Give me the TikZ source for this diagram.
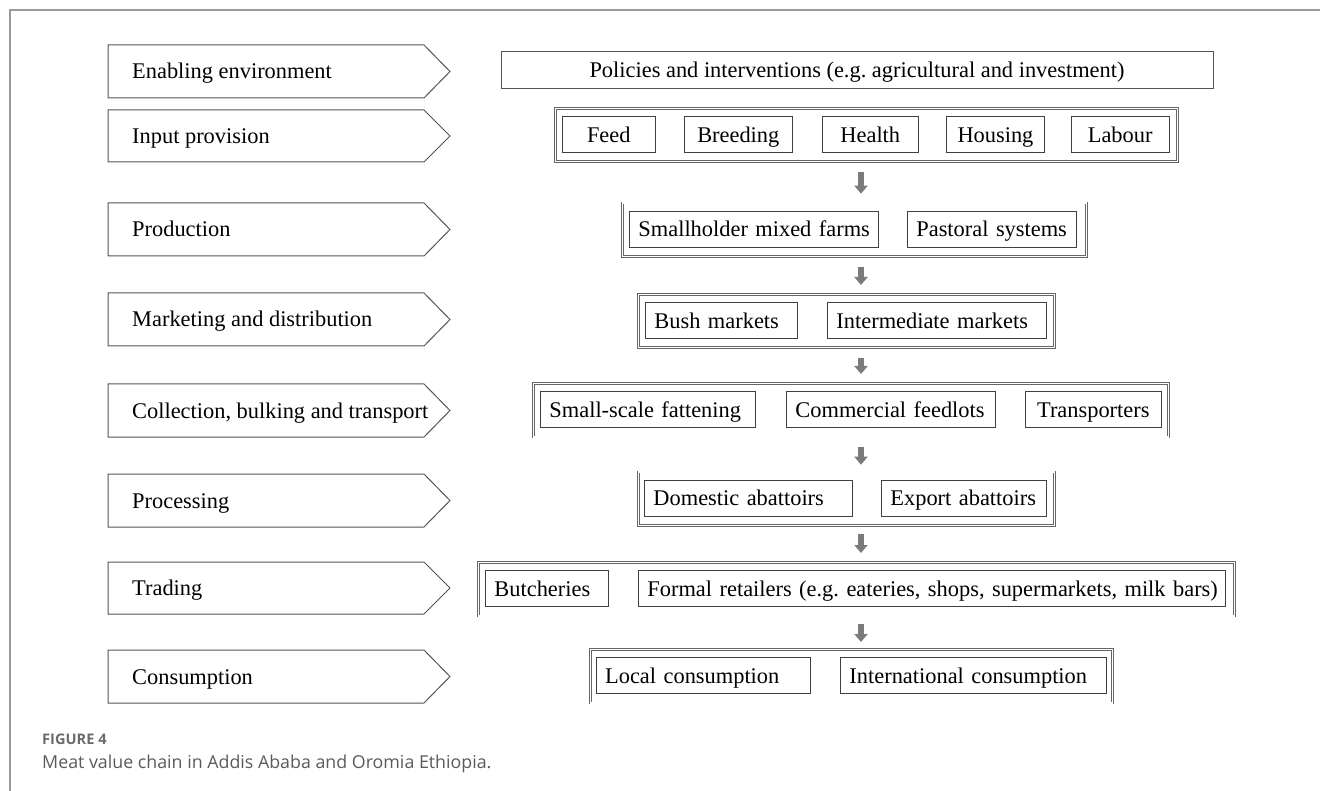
\documentclass[tikz,border=0pt]{standalone}
\usepackage{fontspec}
\setmainfont{Liberation Serif}
\newfontfamily\capfont{Open Sans}
\usetikzlibrary{arrows.meta, positioning}
\frenchspacing

\definecolor{stagegray}{HTML}{555555}
\definecolor{itemgray}{HTML}{404040}
\definecolor{grpgray}{HTML}{666666}
\definecolor{arrowgray}{HTML}{7B7B7B}
\definecolor{framegray}{HTML}{9B9B9B}
\definecolor{capgray}{HTML}{5A5A5A}

\begin{document}
\begin{tikzpicture}[x=1pt, y=-1pt,
          stage/.style={draw=stagegray, line width=1pt},
          stagetxt/.style={anchor=west, inner sep=0pt, text height=17pt, text depth=2pt,
            font=\fontsize{22.4}{26}\selectfont},
          grp/.style={draw=grpgray, double=white, double distance=1.3pt, line width=0.7pt,
            anchor=north west, inner sep=0pt, minimum height=53.5pt},
          item/.style={draw=itemgray, line width=0.9pt, anchor=west, inner xsep=9pt, inner ysep=0pt,
            minimum height=36pt, text height=17pt, text depth=2pt, align=left,
            font=\fontsize{22.4}{26}\selectfont,
            execute at begin node={\leavevmode\hbox\bgroup}, execute at end node={\egroup}},
          flow/.style={draw=arrowgray, line width=6pt, -{Triangle[width=13pt, length=8pt]}},
        ]
          \useasboundingbox (0,0) rectangle (1320,791);
          \draw[framegray, line width=1.5pt] (10,791) -- (10,10) -- (1320,10);

          % stages
          \draw[stage] (108,45)  -- (424,45)  -- (450,71.5)  -- (424,98)  -- (108,98)  -- cycle;
          \draw[stage] (108,110) -- (424,110) -- (450,136)   -- (424,162) -- (108,162) -- cycle;
          \draw[stage] (108,203) -- (424,203) -- (450,229.5) -- (424,256) -- (108,256) -- cycle;
          \draw[stage] (108,293) -- (424,293) -- (450,319.5) -- (424,346) -- (108,346) -- cycle;
          \draw[stage] (108,384) -- (424,384) -- (450,410.5) -- (424,437) -- (108,437) -- cycle;
          \draw[stage] (108,474) -- (424,474) -- (450,500.5) -- (424,527) -- (108,527) -- cycle;
          \draw[stage] (108,562) -- (424,562) -- (450,588)   -- (424,614) -- (108,614) -- cycle;
          \draw[stage] (108,650) -- (424,650) -- (450,676.5) -- (424,703) -- (108,703) -- cycle;
          \node[stagetxt] (s-env)  at (132,71.5)  {Enabling environment};
          \node[stagetxt] (s-inp)  at (132,136)   {Input provision};
          \node[stagetxt] (s-prod) at (132,229.5) {Production};
          \node[stagetxt] (s-mkt)  at (132,319.5) {Marketing and distribution};
          \node[stagetxt] (s-coll) at (132,410.5) {Collection, bulking and transport};
          \node[stagetxt] (s-proc) at (132,500.5) {Processing};
          \node[stagetxt] (s-trad) at (132,588)   {Trading};
          \node[stagetxt] (s-cons) at (132,676.5) {Consumption};

          % actors
          \node[draw=stagegray, line width=1pt, inner sep=0pt, minimum width=712pt, minimum height=37pt,
            text height=17pt, text depth=2pt, font=\fontsize{22.4}{26}\selectfont]
            (policy) at (857,70.2) {Policies and interventions (e.g. agricultural and investment)};

          \node[grp, minimum width=622pt] (g-inp)  at (555,108)   {};
          \node[grp, minimum width=464pt] (g-prod) at (622,202.7) {};
          \node[grp, minimum width=416pt] (g-mkt)  at (638,294)   {};
          \node[grp, minimum width=635pt] (g-coll) at (533,383)   {};
          \node[grp, minimum width=416pt] (g-proc) at (638,471.7) {};
          \node[grp, minimum width=756pt] (g-trad) at (478,562)   {};
          \node[grp, minimum width=522pt] (g-cons) at (590,649)   {};

          \node[item, text width=75.3pt, align=center] (feed)    at (561.7,134.75) {Feed};
          \node[item, text width=89.7pt, align=center] (breed)   at (684,134.75)   {Breeding};
          \node[item, text width=78.3pt, align=center] (health)  at (821.7,134.75) {Health};
          \node[item, text width=80pt, align=center]   (housing) at (946,134.75)   {Housing};
          \node[item, text width=80pt, align=center]   (labour)  at (1070.7,134.75) {Labour};

          \node[item, text width=231pt, align=center] (mixed)   at (629,229.45)   {Smallholder mixed farms};
          \node[item, text width=151pt, align=center] (pastor)  at (906.7,229.45) {Pastoral systems};

          \node[item, text width=134pt] (bush)    at (645,320.75) {Bush markets};
          \node[item, text width=201pt] (interm)  at (827,320.75) {Intermediate markets};

          \node[item, text width=197pt] (fatten)  at (540,409.75) {Small-scale fattening};
          \node[item, text width=191pt] (feedlot) at (786,409.75) {Commercial feedlots};
          \node[item, text width=117.7pt, align=center] (transp) at (1025,409.75) {Transporters};

          \node[item, text width=190pt] (domab)   at (644,498.45) {Domestic abattoirs};
          \node[item, text width=147pt] (expab)   at (881,498.45) {Export abattoirs};

          \node[item, text width=105pt] (butch)   at (485,588.75) {Butcheries};
          \node[item, text width=569pt] (formal)  at (638,588.75) {Formal retailers (e.g. eateries, shops, supermarkets, milk bars)};

          \node[item, text width=196.3pt] (local) at (595.7,675.75) {Local consumption};
          \node[item, text width=247.7pt] (intl)  at (840,675.75)   {International consumption};

          % flow between levels
          \coordinate (ax) at (861,0);
          \draw[flow] ([yshift=-10pt]g-inp.south -| ax)  -- ([yshift=9pt]g-prod.north -| ax);
          \draw[flow] ([yshift=-10pt]g-prod.south -| ax) -- ([yshift=9pt]g-mkt.north -| ax);
          \draw[flow] ([yshift=-10pt]g-mkt.south -| ax)  -- ([yshift=9pt]g-coll.north -| ax);
          \draw[flow] ([yshift=-10pt]g-coll.south -| ax) -- ([yshift=7pt]g-proc.north -| ax);
          \draw[flow] ([yshift=-8pt]g-proc.south -| ax)  -- ([yshift=9pt]g-trad.north -| ax);
          \draw[flow] ([yshift=-8pt]g-trad.south -| ax)  -- ([yshift=7pt]g-cons.north -| ax);

          % caption
          \node[anchor=base west, inner sep=0pt, text=capgray!90, font=\capfont\bfseries\fontsize{14.6}{18}\selectfont]
            (figno) at (42,744) {FIGURE 4};
          \node[anchor=base west, inner sep=0pt, text=capgray, font=\capfont\fontsize{17.8}{21}\selectfont]
            (figcap) at (42,768) {Meat value chain in Addis Ababa and Oromia Ethiopia.};
        \end{tikzpicture}
\end{document}
